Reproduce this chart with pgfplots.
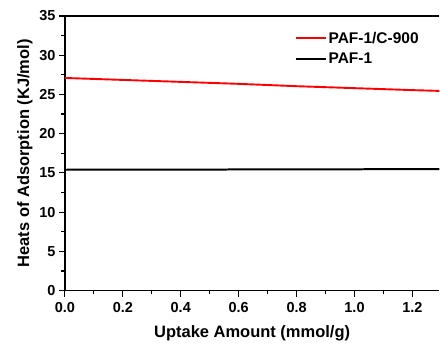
\documentclass[border=0pt]{standalone}
\usepackage{pgfplots}
\pgfplotsset{compat=1.18}
\usepackage{fontspec}
\setmainfont{Liberation Sans}
\begin{document}
\begin{tikzpicture}
\begin{axis}[
  scale only axis,
  width=375pt, height=275pt,
  xmin=0, xmax=1.293, ymin=0, ymax=35,
  axis x line=box, axis y line=left,
  axis line style={-, line width=1.3pt},
  xtick={0,0.2,...,1.2}, ytick={0,5,...,35},
  minor x tick num=1, minor y tick num=1,
  xtick pos=bottom, ytick pos=left,
  tick align=outside,
  major tick length=6pt, minor tick length=3.5pt,
  every tick/.style={black, line width=1.1pt},
  xticklabel style={yshift=-2pt, /pgf/number format/fixed, /pgf/number format/fixed zerofill, /pgf/number format/precision=1},
  /pgf/number format/assume math mode=true,
  tick label style={font=\fontsize{14.5}{16}\selectfont\bfseries},
  label style={font=\fontsize{16.5}{18}\selectfont\bfseries},
  xlabel={Uptake Amount (mmol/g)},
  ylabel={Heats of Adsorption (KJ/mol)},
  xlabel style={at={(axis description cs:0.5,0)}, anchor=center, yshift=-43pt},
  ylabel style={at={(axis description cs:0,0.5)}, anchor=center, yshift=40pt},
  legend style={at={(rel axis cs:0.613,0.95)}, anchor=north west, draw=none, fill=none,
    font=\fontsize{15.5}{17}\selectfont\bfseries, row sep=4pt, inner sep=0pt,
    /tikz/every even column/.append style={column sep=4pt}},
  legend cell align=left,
  legend image code/.code={\draw[#1] (0pt,0pt) -- (30pt,0pt);},
]
\addplot[red, line width=1.9pt] coordinates {(0,27.1) (0.2,26.85) (0.4,26.6) (0.6,26.35) (0.8,26.05) (1.0,25.8) (1.2,25.55) (1.293,25.45)};
\addlegendentry{PAF-1/C-900}
\addplot[black, line width=2pt] coordinates {(0,15.4) (0.4,15.42) (0.8,15.45) (1.293,15.48)};
\addlegendentry{PAF-1}
\end{axis}
\path[use as bounding box] (current axis.south west) ++(-65pt,-49pt) rectangle ++(440pt,340pt);
\end{tikzpicture}
\end{document}
